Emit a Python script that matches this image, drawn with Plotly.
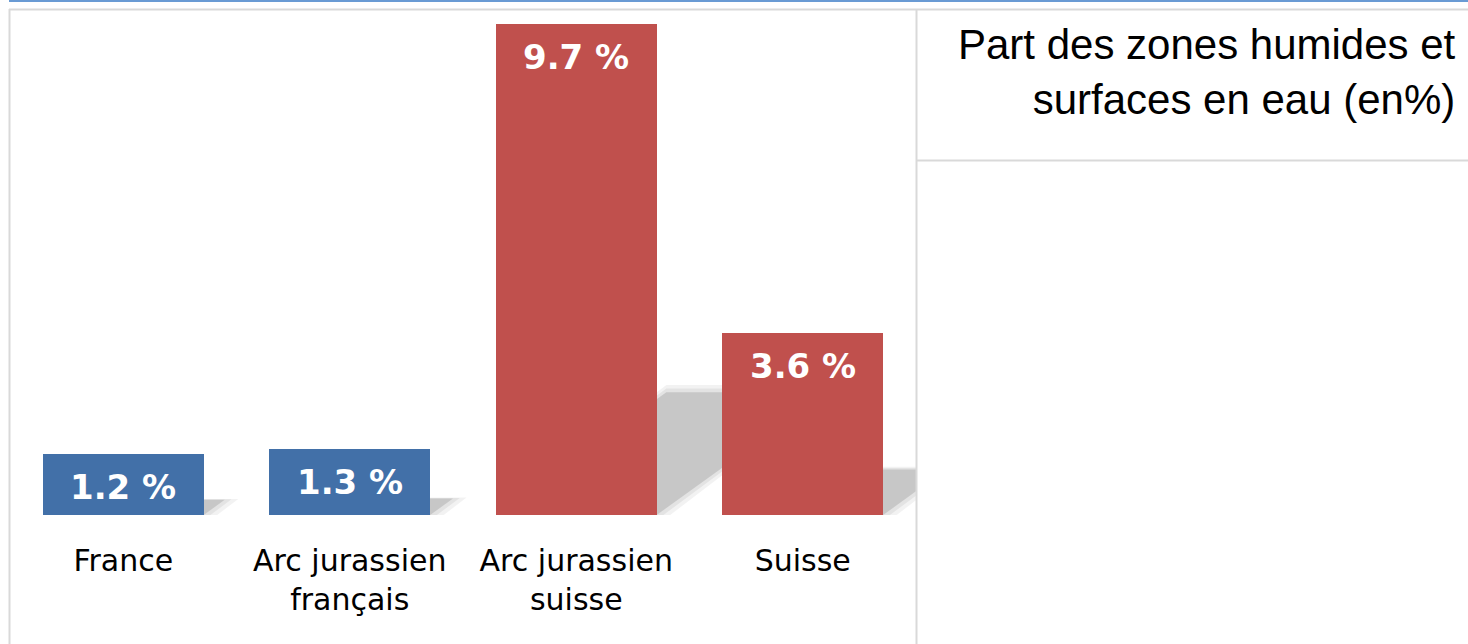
import plotly.graph_objects as go

# ---- data ----
categories = ["France", "Arc jurassien<br>français", "Arc jurassien<br>suisse", "Suisse"]
values = [1.2, 1.3, 9.7, 3.6]
bar_colors = ["#4270a8", "#4270a8", "#c0504d", "#c0504d"]
value_labels = ["1.2 %", "1.3 %", "9.7 %", "3.6 %"]
title_text = "Part des zones humides et<br>surfaces en eau (en%)"

# ---- layout geometry (pixels) ----
W, H = 1468, 644
L, R, T, B = 10, 552, 9, 129
PW, PH = W - L - R, H - T - B


def px_x(p):
    return (p - L) / PW


def px_y(p):
    return (H - B - p) / PH


BAR_W = 0.71
SHEAR = 0.0776   # shadow horizontal shift per value unit (category units)
SH_H = 0.25      # shadow height as fraction of value

fig = go.Figure()

xs_idx = list(range(len(categories)))
fig.add_trace(go.Bar(x=xs_idx, y=values, width=BAR_W, marker=dict(color=bar_colors, line=dict(width=0)),
                     showlegend=False, hoverinfo="skip"))

shapes = []
# soft shadows (derived from data values), drawn below the bars
for i, v in zip(xs_idx, values):
    x0, x1 = i - BAR_W / 2, i + BAR_W / 2
    for grow, col in [(0.06, "rgba(0,0,0,0.05)"), (0.03, "rgba(0,0,0,0.06)"), (0.0, "rgba(0,0,0,0.12)")]:
        top = SH_H * v * (1 + grow)
        path = (f"M {x0},0 L {x1 + grow},0 L {x1 + SHEAR * v + grow},{top} "
                f"L {x0 + SHEAR * v},{top} Z")
        shapes.append(dict(type="path", xref="x", yref="y", path=path, fillcolor=col,
                           line=dict(width=0), layer="below"))

annotations = []
for i, v, lab in zip(xs_idx, values, value_labels):
    annotations.append(dict(x=i, y=v, xref="x", yref="y", text=lab, showarrow=False,
                            yanchor="middle", yshift=-33,
                            font=dict(family="DejaVu Sans", size=34, color="white", weight="bold")))

annotations.append(dict(x=px_x(1458), y=px_y(72), xref="paper", yref="paper", text=title_text,
                        showarrow=False, xanchor="right", yanchor="middle", align="right",
                        font=dict(family="Liberation Sans, Arial", size=42, color="#000000")))

gray = "#d9d9d9"
shapes += [
    dict(type="line", xref="paper", yref="paper", x0=px_x(9), x1=px_x(W), y0=px_y(1), y1=px_y(1),
         line=dict(color="#6a9bd4", width=2)),
    dict(type="line", xref="paper", yref="paper", x0=px_x(9), x1=px_x(W), y0=px_y(9.5), y1=px_y(9.5),
         line=dict(color=gray, width=2)),
    dict(type="line", xref="paper", yref="paper", x0=px_x(9.5), x1=px_x(9.5), y0=px_y(9), y1=px_y(H),
         line=dict(color=gray, width=2)),
    dict(type="line", xref="paper", yref="paper", x0=px_x(916.5), x1=px_x(916.5), y0=px_y(9), y1=px_y(H),
         line=dict(color=gray, width=2)),
    dict(type="line", xref="paper", yref="paper", x0=px_x(916), x1=px_x(W), y0=px_y(160.5), y1=px_y(160.5),
         line=dict(color=gray, width=2)),
]

fig.update_layout(
    width=W, height=H,
    margin=dict(l=L, r=R, t=T, b=B, pad=0),
    paper_bgcolor="white", plot_bgcolor="white",
    bargap=0,
    annotations=annotations,
    shapes=shapes,
    xaxis=dict(range=[-0.5, 3.5], tickvals=xs_idx, ticktext=categories, showgrid=False,
               zeroline=False, showline=False, ticks="", ticklabelstandoff=25,
               tickfont=dict(family="DejaVu Sans", size=30, color="#000000"), fixedrange=True),
    yaxis=dict(range=[0, 10], visible=False, showgrid=False, zeroline=False, fixedrange=True),
)

fig.write_html("out.html", config={"displayModeBar": False},
               post_script="document.body.style.margin='0';")
